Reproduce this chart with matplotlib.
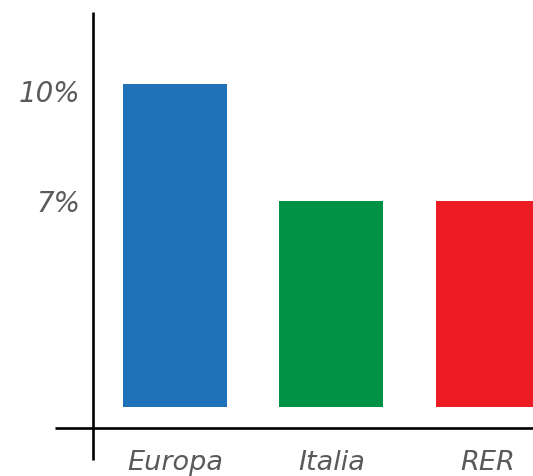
import matplotlib.pyplot as plt
from matplotlib.transforms import ScaledTranslation

# Dati
categorie = ['Europa', 'Italia', 'RER']
valori = [10, 7, 7]
colori = ['#1f71b8', '#009245', '#ed1c24']
tick_valori = [10, 7]
tick_etichette = ['10%', '7%']
base = 1.72  # le barre partono da qui, come nell'originale

grigio = '#5a5a5a'

fig = plt.figure(figsize=(5.33, 4.76), dpi=100)
ax = fig.add_axes([93 / 533, 48 / 476, 440 / 533, 416 / 476])

x = list(range(len(categorie)))
altezze = [v - base for v in valori]
ax.bar(x, altezze, width=0.665, bottom=base, color=colori)

ax.set_xlim(-0.524, 2.288)
ax.set_ylim(base - 0.538, base + 10.128)

for s in ax.spines.values():
    s.set_visible(False)

# assi che sporgono oltre l'incrocio
ax.plot([0, 0], [-32 / 416, 1], transform=ax.transAxes, color='black',
        lw=1.9, clip_on=False, solid_capstyle='butt')
ax.plot([-38 / 440, 1], [0, 0], transform=ax.transAxes, color='black',
        lw=1.9, clip_on=False, solid_capstyle='butt')

ax.set_yticks(tick_valori)
ax.set_yticklabels(tick_etichette)
ax.set_xticks(x)
ax.set_xticklabels(categorie)
ax.tick_params(length=0)
ax.tick_params(axis='y', pad=9)
ax.tick_params(axis='x', pad=16)
for lab in ax.get_yticklabels():
    lab.set_fontfamily('DejaVu Sans')
    lab.set_fontstyle('oblique')
    lab.set_fontsize(20)
    lab.set_color(grigio)
for lab in ax.get_xticklabels():
    lab.set_fontfamily('DejaVu Sans')
    lab.set_fontstyle('oblique')
    lab.set_fontsize(19.5)
    lab.set_color(grigio)

# nell'originale l'etichetta 10% sta un po' sotto la cima della barra
lab10 = ax.get_yticklabels()[0]
lab10.set_transform(lab10.get_transform() +
                    ScaledTranslation(0, -5 / 72, fig.dpi_scale_trans))

fig.savefig('out.png', dpi=100)
